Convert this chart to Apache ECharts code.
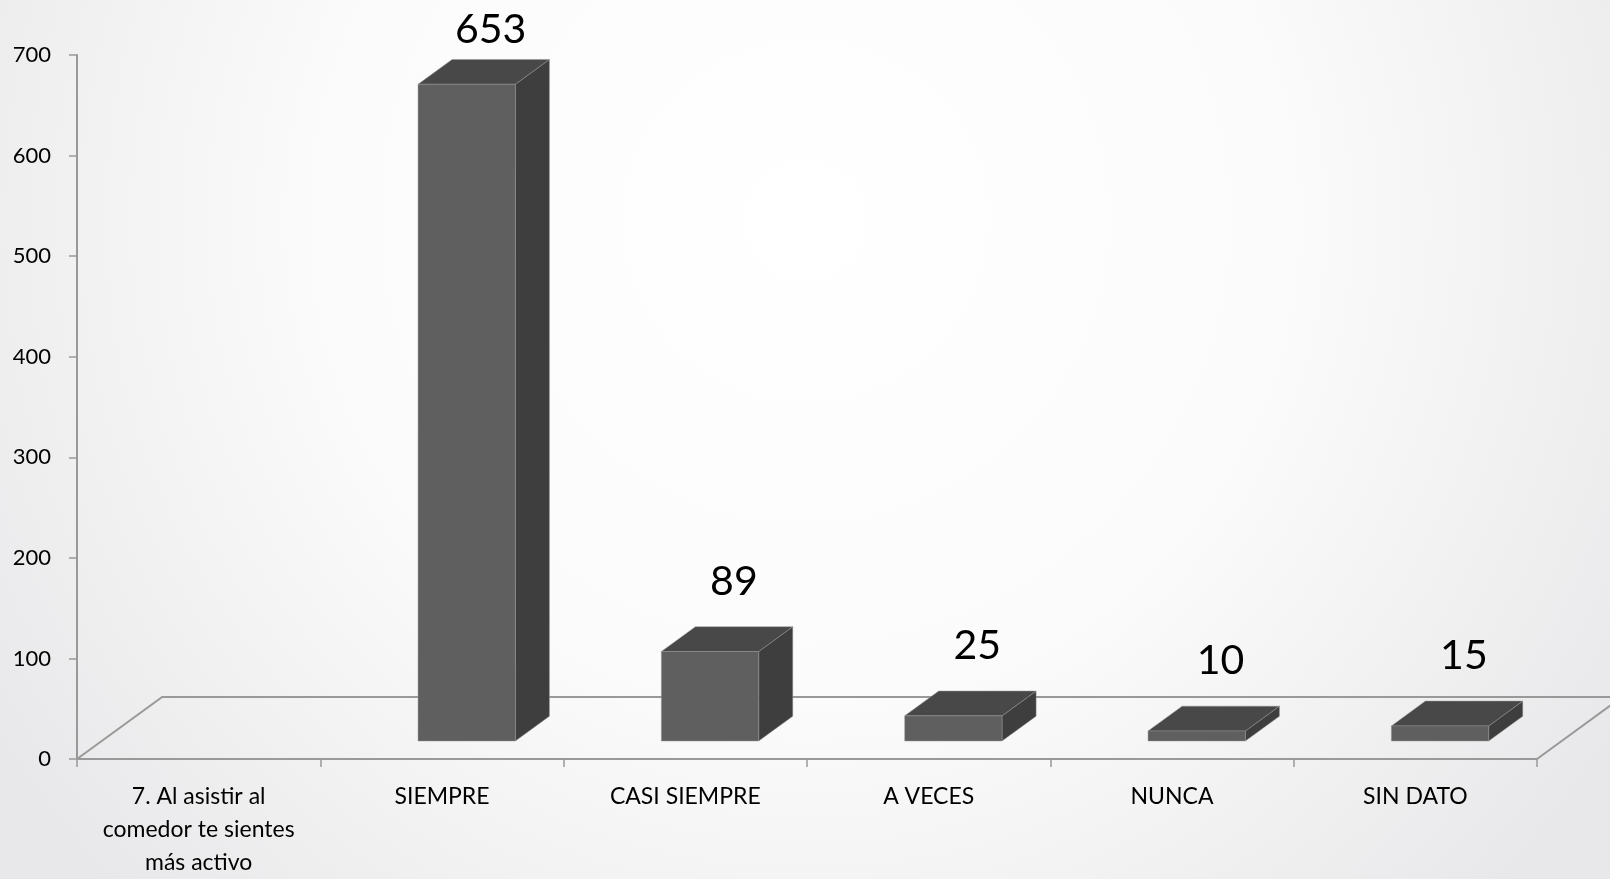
<!DOCTYPE html>
<html>
<head>
<meta charset="utf-8">
<script src="https://cdn.jsdelivr.net/npm/echarts@6/dist/echarts.min.js"></script>
<style>
  html, body { margin: 0; padding: 0; width: 1610px; height: 879px; overflow: hidden; }
  #chart { width: 1610px; height: 879px; }
</style>
</head>
<body>
<div id="chart"></div>
<script>
// ---- data ----
const categories = [
  '7. Al asistir al\ncomedor te sientes\nmás activo',
  'SIEMPRE',
  'CASI SIEMPRE',
  'A VECES',
  'NUNCA',
  'SIN DATO'
];
const values = [null, 653, 89, 25, 10, 15];
const yTicks = [0, 100, 200, 300, 400, 500, 600, 700];

// ---- build ----
const barData = [];
values.forEach(function (v, i) { if (v !== null) barData.push([i, v]); });

const FONT = 'Lato, "Open Sans", sans-serif';
const FLOOR_DX = 0.35, FLOOR_DY = 0.255;   // floor depth as fraction of category width
const INSET = 0.29, DEPTH = 0.40, BAR_W = 0.40;

function renderBar(params, api) {
  const idx = api.value(0), v = api.value(1);
  const base = api.coord([idx, 0]);
  const top = api.coord([idx, v]);
  const cw = api.size([1, 0])[0];
  const h = base[1] - top[1];
  const fdx = cw * FLOOR_DX, fdy = cw * FLOOR_DY;
  const ddx = fdx * DEPTH, ddy = fdy * DEPTH;
  const w = cw * BAR_W;
  const x0 = base[0] - w / 2 + fdx * INSET;
  const y0 = base[1] - fdy * INSET;
  const yt = y0 - h;
  const edge = { stroke: 'rgba(150,150,150,0.6)', lineWidth: 0.8 };
  return {
    type: 'group',
    children: [
      { type: 'polygon', shape: { points: [[x0 + w, y0], [x0 + w + ddx, y0 - ddy], [x0 + w + ddx, yt - ddy], [x0 + w, yt]] },
        style: Object.assign({ fill: '#3e3e3e' }, edge) },
      { type: 'polygon', shape: { points: [[x0, yt], [x0 + ddx, yt - ddy], [x0 + w + ddx, yt - ddy], [x0 + w, yt]] },
        style: Object.assign({ fill: '#484848' }, edge) },
      { type: 'rect', shape: { x: x0, y: yt, width: w, height: h },
        style: Object.assign({ fill: '#5f5f5f' }, edge) },
      { type: 'text', x: x0 + w / 2 + ddx * 0.7, y: Math.max(yt - 70, 30),
        style: { text: String(v), fill: '#000', font: '41px ' + FONT, align: 'center', verticalAlign: 'middle' } }
    ]
  };
}

function renderFloor(params, api) {
  const cs = params.coordSys;
  const cw = api.size([1, 0])[0];
  const fdx = cw * FLOOR_DX, fdy = cw * FLOOR_DY;
  const xl = cs.x, xr = cs.x + cs.width, yb = cs.y + cs.height;
  return {
    type: 'polyline',
    shape: { points: [[xl, yb], [xl + fdx, yb - fdy], [xr + fdx, yb - fdy], [xr, yb]] },
    style: { stroke: '#999999', lineWidth: 2, fill: null }
  };
}

const chart = echarts.init(document.getElementById('chart'), null, { renderer: 'canvas' });
chart.setOption({
  animation: false,
  backgroundColor: {
    type: 'radial', x: 0.5, y: 0.25, r: 1.1,
    colorStops: [
      { offset: 0, color: '#ffffff' },
      { offset: 0.5, color: '#fbfbfb' },
      { offset: 1, color: '#e8e8ea' }
    ]
  },
  grid: { left: 77, right: 73, top: 55, bottom: 110.7, containLabel: false },
  xAxis: {
    type: 'category',
    data: categories,
    boundaryGap: true,
    axisLine: { show: true, lineStyle: { color: '#999999', width: 2 } },
    axisTick: { show: true, length: 8, lineStyle: { color: '#999999', width: 1.5 } },
    axisLabel: { interval: 0, color: '#000', fontFamily: FONT, fontSize: 23, lineHeight: 33, margin: 21 },
    splitLine: { show: false }
  },
  yAxis: {
    type: 'value',
    min: 0, max: 700, interval: 100,
    axisLine: { show: true, lineStyle: { color: '#999999', width: 2 } },
    axisTick: { show: true, length: 8, lineStyle: { color: '#999999', width: 1.5 } },
    axisLabel: { color: '#000', fontFamily: FONT, fontSize: 22, margin: 26,
      formatter: function (val) { return yTicks.indexOf(val) >= 0 ? String(val) : ''; } },
    splitLine: { show: false }
  },
  series: [
    { type: 'custom', z: 1, renderItem: renderFloor, data: [[0, 0]], silent: true, clip: false },
    { type: 'custom', z: 3, renderItem: renderBar, data: barData, clip: false,
      encode: { x: 0, y: 1 } }
  ]
});
</script>
</body>
</html>
